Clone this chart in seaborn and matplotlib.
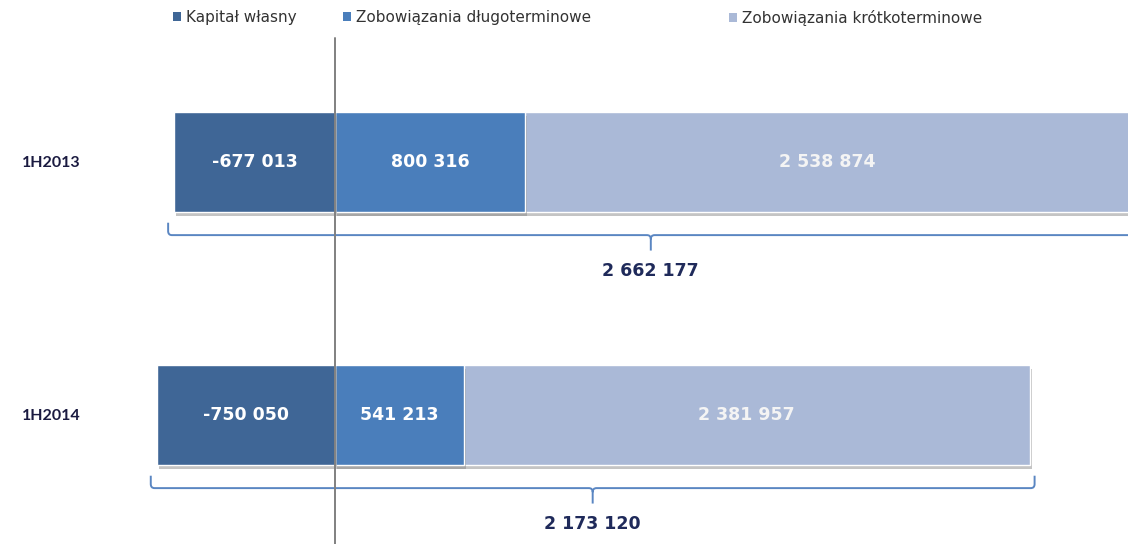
import numpy as np
import pandas as pd
import matplotlib
matplotlib.use('Agg')
import matplotlib.pyplot as plt
import matplotlib.patheffects as pe
from matplotlib.path import Path
from matplotlib.patches import PathPatch, Patch
import seaborn as sns

# dane (PLN tys.)
okresy = ['1H2013', '1H2014']
kapital_wlasny = [-677013, -750050]
zob_dlugo = [800316, 541213]
zob_krotko = [2538874, 2381957]
serie = ['Kapitał własny', 'Zobowiązania długoterminowe', 'Zobowiązania krótkoterminowe']
kolory = ['#3F6696', '#4A7EBB', '#AAB9D7']

df = pd.DataFrame({'okres': okresy, 'kapital': kapital_wlasny,
                   'dlugo': zob_dlugo, 'krotko': zob_krotko})
df['dlugo_krotko'] = df['dlugo'] + df['krotko']
df['suma'] = df['kapital'] + df['dlugo'] + df['krotko']


def fmt(v):
    return f"{v:,}".replace(',', ' ')


sns.set_style('white')
plt.rcParams['font.family'] = ['DejaVu Sans']

fig = plt.figure(figsize=(11.28, 5.44), dpi=100)
ax = fig.add_axes([100 / 1128, 0, 1 - 100 / 1128, 1])

bar_w = 0.395
# stacked: the longer positive bar first, then the shorter one on top
sns.barplot(data=df, x='dlugo_krotko', y='okres', orient='h', color=kolory[2],
            saturation=1, width=bar_w, edgecolor='white', linewidth=1, ax=ax)
sns.barplot(data=df, x='dlugo', y='okres', orient='h', color=kolory[1],
            saturation=1, width=bar_w, edgecolor='white', linewidth=1, ax=ax)
sns.barplot(data=df, x='kapital', y='okres', orient='h', color=kolory[0],
            saturation=1, width=bar_w, edgecolor='white', linewidth=1, ax=ax)

for p in ax.patches:
    p.set_path_effects([pe.SimplePatchShadow(offset=(1.5, -3), shadow_rgbFace='#8a8a8a', alpha=0.5),
                        pe.Normal()])

# labels inside the bars
for i, r in df.iterrows():
    ax.text(r['kapital'] / 2, i, fmt(r['kapital']), ha='center', va='center',
            color='white', fontsize=12.5, fontweight='bold', zorder=6)
    ax.text(r['dlugo'] / 2, i, fmt(r['dlugo']), ha='center', va='center',
            color='white', fontsize=12.5, fontweight='bold', zorder=6)
    ax.text(r['dlugo'] + r['krotko'] / 2, i, fmt(r['krotko']), ha='center', va='center',
            color='#F4F4F4', fontsize=12.5, fontweight='bold', zorder=6)


def brace(ax, left, right, y, color):
    yl = y + 0.289
    yt = y + 0.24
    yb = y + 0.35
    rx, ry = 16000, 0.016
    mid = (left + right) / 2
    verts = [(left, yt), (left, yl - ry), (left, yl), (left + rx, yl),
             (mid - rx, yl), (mid, yl), (mid, yl + ry), (mid, yb),
             (mid, yl + ry), (mid, yl), (mid + rx, yl),
             (right - rx, yl), (right, yl), (right, yl - ry), (right, yt)]
    codes = [Path.MOVETO, Path.LINETO, Path.CURVE3, Path.CURVE3,
             Path.LINETO, Path.CURVE3, Path.CURVE3, Path.LINETO,
             Path.MOVETO, Path.CURVE3, Path.CURVE3,
             Path.LINETO, Path.CURVE3, Path.CURVE3, Path.LINETO]
    ax.add_patch(PathPatch(Path(verts, codes), fill=False, edgecolor=color, lw=1.4, zorder=4))
    return mid


for i, r in df.iterrows():
    mid = brace(ax, r['kapital'] - 25000, r['dlugo_krotko'] + 20000, i, '#5A86C2')
    ax.text(mid, i + 0.43, fmt(r['suma']), ha='center', va='center',
            color='#1F2A5A', fontsize=12.5, fontweight='bold')

ax.axvline(0, ymin=0, ymax=1 - 38 / 544, color='#808080', lw=1.4, zorder=5)

upp = 1 / 0.0002377
ax.set_xlim(-(335 - 100) * upp, (1128 - 335) * upp)
ax.set_ylim(1 + (544 - 415) / 253, -162 / 253)

ax.set_xlabel('')
ax.set_ylabel('')
ax.set_xticks([])
ax.tick_params(axis='y', length=0, pad=14)
for t in ax.get_yticklabels():
    t.set_fontweight('bold')
    t.set_fontsize(11.5)
    t.set_family(['Lato'])
    t.set_color('#1A1A40')
sns.despine(ax=ax, left=True, bottom=True)

# legend: one entry per legend, so each one sits where the original has it
for c, name, x0 in zip(kolory, serie, [159, 329, 715]):
    leg = fig.legend([Patch(facecolor=c, edgecolor='none')], [name], loc='upper left',
                     bbox_to_anchor=(x0 / 1128, 1.007), frameon=False,
                     handlelength=0.55, handleheight=0.55, handletextpad=0.3,
                     fontsize=11, labelcolor='#333333')

fig.savefig('out.png', dpi=100)
